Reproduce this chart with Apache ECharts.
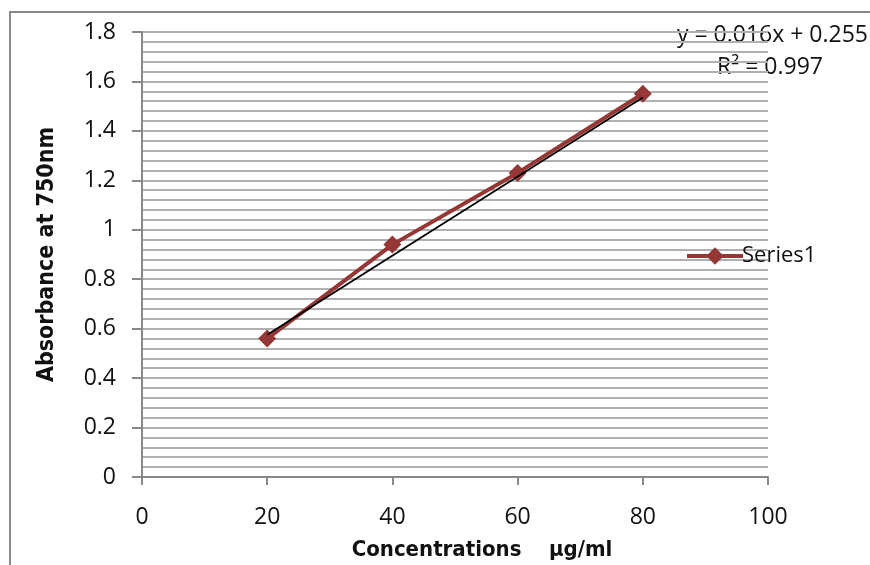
<!DOCTYPE html>
<html>
<head>
<meta charset="utf-8">
<script src="https://cdn.jsdelivr.net/npm/echarts@6/dist/echarts.min.js"></script>
<style>
html,body{margin:0;padding:0;background:#fff;}
#c{width:870px;height:565px;}
</style>
</head>
<body>
<div id="c"></div>
<script>
var concentrations = [20, 40, 60, 80];
var absorbance = [0.56, 0.94, 1.23, 1.55];
var trendX = [20, 80];
var trendY = [0.575, 1.535];
var yTicks = [0, 0.2, 0.4, 0.6, 0.8, 1, 1.2, 1.4, 1.6, 1.8];
var xTicks = [0, 20, 40, 60, 80, 100];
var equationText = 'y = 0.016x + 0.255';
var r2Text = 'R² = 0.997';

var labelFont = '"Open Sans", "Noto Sans", sans-serif';
var titleFont = '"DejaVu Sans Condensed", "Liberation Sans Narrow", sans-serif';

var chart = echarts.init(document.getElementById('c'));
chart.setOption({
  backgroundColor: '#fff',
  animation: false,
  grid: {left: 142, right: 102, top: 32, bottom: 88, containLabel: false, outerBoundsMode: 'none'},
  xAxis: {
    type: 'value', min: 0, max: 100, interval: 20,
    axisLine: {lineStyle: {color: '#888', width: 2}},
    axisTick: {show: true, length: 8, inside: false, lineStyle: {color: '#888', width: 2}},
    axisLabel: {margin: 29, fontSize: 23, color: '#111', fontFamily: labelFont},
    splitLine: {show: false},
    name: 'Concentrations    µg/ml',
    nameLocation: 'middle', nameGap: 62,
    nameTextStyle: {fontSize: 22, fontWeight: 'bold', color: '#111', fontFamily: titleFont, padding: [0, 0, 0, 54]}
  },
  yAxis: {
    type: 'value', min: 0, max: 1.8, interval: 0.2,
    axisLine: {show: true, lineStyle: {color: '#888', width: 2}},
    axisTick: {show: true, length: 10, lineStyle: {color: '#888', width: 2}},
    axisLabel: {margin: 26, fontSize: 23, color: '#111', fontFamily: labelFont,
      formatter: function(v){ var t = yTicks.find(function(k){return Math.abs(k-v)<1e-6;}); return t===undefined? '' : String(t); }},
    splitLine: {show: true, lineStyle: {color: '#b0b0b0', width: 2}},
    minorTick: {show: true, splitNumber: 5, length: 0},
    minorSplitLine: {show: true, lineStyle: {color: '#b0b0b0', width: 2}},
    name: 'Absorbance at 750nm',
    nameLocation: 'middle', nameGap: 83,
    nameTextStyle: {fontSize: 23, fontWeight: 'bold', color: '#111', fontFamily: titleFont}
  },
  legend: {
    show: true, left: 680, top: 240, orient: 'vertical',
    itemWidth: 56, itemHeight: 22, itemGap: 4,
    lineStyle: {width: 4},
    textStyle: {fontSize: 22, color: '#111', fontFamily: labelFont, padding: [0,0,0,-6]},
    data: ['Series1']
  },
  series: [
    {
      name: 'Series1', type: 'line',
      data: concentrations.map(function(x,i){return [x, absorbance[i]];}),
      symbol: 'diamond', symbolSize: 18,
      lineStyle: {color: '#953735', width: 4},
      itemStyle: {color: '#953735'},
      z: 3
    },
    {
      name: 'Trend', type: 'line',
      data: trendX.map(function(x,i){return [x, trendY[i]];}),
      symbol: 'none',
      lineStyle: {color: '#000', width: 1.8},
      z: 4
    }
  ],
  graphic: [
    {type: 'rect', shape: {x: 10, y: 12, width: 900, height: 600}, style: {fill: 'none', stroke: '#888', lineWidth: 2}, silent: true},
    {type: 'text', right: 2, top: 24, style: {text: equationText, font: '23px ' + labelFont, fill: '#111'}},
    {type: 'text', left: 717, top: 56, style: {text: r2Text, font: '23px ' + labelFont, fill: '#111'}}
  ]
});
</script>
</body>
</html>
